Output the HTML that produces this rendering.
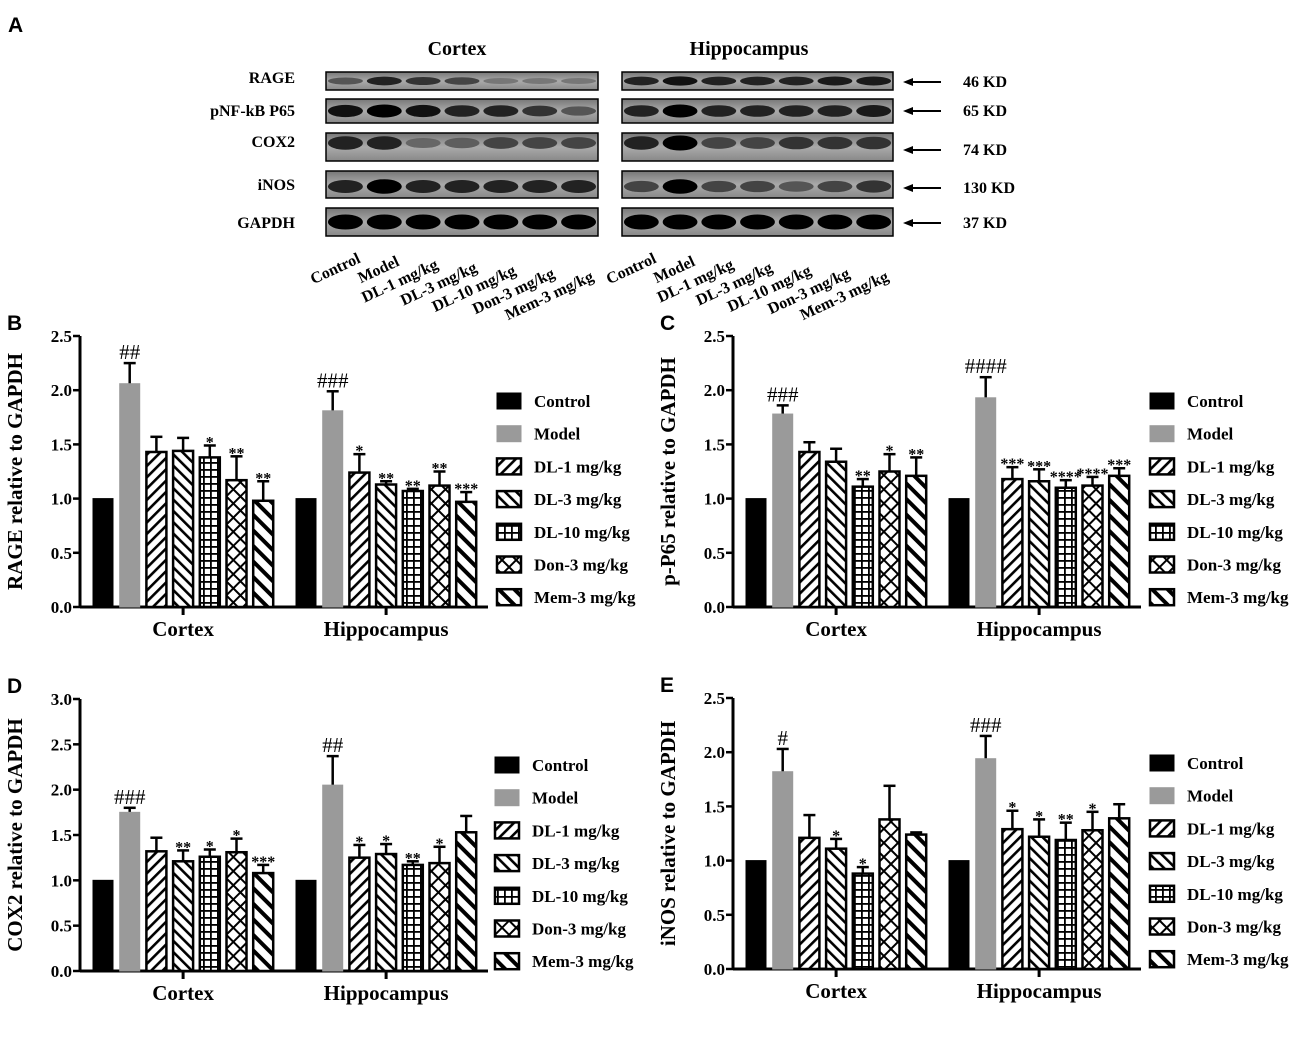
<!DOCTYPE html>
<html><head><meta charset="utf-8"><style>
body{margin:0;background:#fff}
svg{display:block;font-family:"Liberation Serif",serif;font-weight:bold}
</style></head><body>
<svg id="fig" width="1300" height="1063" viewBox="0 0 1300 1063">
<defs>
<pattern id="p-dl1" patternUnits="userSpaceOnUse" width="8" height="8" patternTransform="rotate(45)"><rect width="8" height="8" fill="#fff"/><rect x="0" y="0" width="2.6" height="8" fill="#000"/></pattern>
<pattern id="p-dl3" patternUnits="userSpaceOnUse" width="8" height="8" patternTransform="rotate(-45)"><rect width="8" height="8" fill="#fff"/><rect x="0" y="0" width="2.6" height="8" fill="#000"/></pattern>
<pattern id="p-dl10" patternUnits="userSpaceOnUse" width="7" height="7"><rect width="7" height="7" fill="#fff"/><rect x="0" y="0" width="7" height="1.8" fill="#000"/><rect x="0" y="0" width="1.8" height="7" fill="#000"/></pattern>
<pattern id="p-don" patternUnits="userSpaceOnUse" width="10" height="10" patternTransform="rotate(45)"><rect width="10" height="10" fill="#fff"/><rect x="0" y="0" width="10" height="2" fill="#000"/><rect x="0" y="0" width="2" height="10" fill="#000"/></pattern>
<pattern id="p-mem" patternUnits="userSpaceOnUse" width="11" height="11" patternTransform="rotate(-45)"><rect width="11" height="11" fill="#fff"/><rect x="0" y="0" width="4" height="11" fill="#000"/></pattern>
<linearGradient id="blotbg" x1="0" y1="0" x2="0" y2="1"><stop offset="0" stop-color="#777"/><stop offset="0.5" stop-color="#aaa"/><stop offset="1" stop-color="#888"/></linearGradient>
</defs>
<g id="blots"></g>
<g id="charts"></g>
</svg>
<script>
const NS="http://www.w3.org/2000/svg";
const svg=document.getElementById('fig');
function mk(tag,attrs,parent,txt){const e=document.createElementNS(NS,tag);for(const k in attrs)e.setAttribute(k,attrs[k]);if(txt!==undefined)e.textContent=txt;(parent||svg).appendChild(e);return e;}

// ---------- Panel A: blots ----------
const blotRows=["RAGE","pNF-kB P65","COX2","iNOS","GAPDH"];
const blotKD=["46 KD","65 KD","74 KD","130 KD","37 KD"];
const rowY=[[72,90],[99,123],[133,161],[171,198],[208,236]];
const kdY=[82,111,150,188,223];
const cortexBand=[[0.5,0.8,0.7,0.6,0.3,0.3,0.3],[0.9,1,0.9,0.8,0.8,0.7,0.5],[0.8,0.8,0.4,0.45,0.6,0.6,0.6],[0.8,1,0.8,0.8,0.8,0.8,0.8],[1,1,1,1,1,1,1]];
const hippoBand=[[0.8,0.9,0.8,0.8,0.8,0.85,0.85],[0.8,1,0.8,0.8,0.8,0.8,0.85],[0.8,1,0.6,0.6,0.7,0.7,0.7],[0.6,1,0.6,0.6,0.5,0.6,0.7],[1,1,1,1,1,1,1]];
const lanes=["Control","Model","DL-1 mg/kg","DL-3 mg/kg","DL-10 mg/kg","Don-3 mg/kg","Mem-3 mg/kg"];
const B=document.getElementById('blots');
let t=mk('text',{x:8,y:32,'font-family':'Liberation Sans, sans-serif','font-size':21},B,'A');
t=mk('text',{x:457,y:55,'text-anchor':'middle','font-size':20},B,'Cortex');
t=mk('text',{x:749,y:55,'text-anchor':'middle','font-size':20},B,'Hippocampus');
function drawBlot(x0,x1,bands,name){
  blotRows.forEach((r,i)=>{
    const [y0,y1]=rowY[i];
    const g=mk('g',{},B);
    mk('rect',{x:x0,y:y0,width:x1-x0,height:y1-y0,fill:'url(#blotbg)',stroke:'#000','stroke-width':1.5},g);
    const lw=(x1-x0)/7;
    bands[i].forEach((d,j)=>{
      const cx=x0+lw*(j+0.5), cy=(y0+y1)/2+(i==2?-4:i==3?2:0);
      const c=Math.round(170*(1-d));
      mk('ellipse',{cx:cx,cy:cy,rx:lw*0.45,ry:(y1-y0)*(0.12+0.15*d),fill:`rgb(${c},${c},${c})`},g);
    });
  });
  lanes.forEach((l,j)=>{
    const lw=(x1-x0)/7;const lx=x0+lw*(j+0.5)+16, ly=262+j*3;
    const tt=mk('text',{x:lx,y:ly,'text-anchor':'end','font-size':16,transform:`rotate(-25 ${lx} ${ly})`},B,l);
    
  });
}
drawBlot(326,598,cortexBand,'cortex');
drawBlot(622,893,hippoBand,'hippocampus');
blotRows.forEach((r,i)=>{
  const tt=mk('text',{x:295,y:(i==0?83:i==1?116:i==2?147:i==3?190:228),'text-anchor':'end','font-size':16},B,r);
  
  const ar=mk('g',{},B);
  mk('line',{x1:941,y1:kdY[i],x2:910,y2:kdY[i],stroke:'#000','stroke-width':2},ar);
  mk('path',{d:`M903 ${kdY[i]} l10 -4 v8z`,fill:'#000'},ar);
  const k=mk('text',{x:963,y:kdY[i]+5,'font-size':16},B,blotKD[i]);
  
});

// ---------- Chart data ----------
const groups=["Cortex","Hippocampus"];
const seriesNames=["Control","Model","DL-1 mg/kg","DL-3 mg/kg","DL-10 mg/kg","Don-3 mg/kg","Mem-3 mg/kg"];
const fills=["#000","#9a9a9a","url(#p-dl1)","url(#p-dl3)","url(#p-dl10)","url(#p-don)","url(#p-mem)"];

const rageCortex=[1,2.06,1.43,1.44,1.38,1.17,0.98];
const rageCortexErr=[0,0.19,0.14,0.12,0.11,0.22,0.18];
const rageHippo=[1,1.81,1.24,1.13,1.07,1.12,0.97];
const rageHippoErr=[0,0.18,0.17,0.03,0.02,0.13,0.09];
const rageCortexSig=["","##","","","*","**","**"];
const rageHippoSig=["","###","*","**","**","**","***"];
const rageTicks=["0.0","0.5","1.0","1.5","2.0","2.5"];

const p65Cortex=[1,1.78,1.43,1.34,1.11,1.25,1.21];
const p65CortexErr=[0,0.08,0.09,0.12,0.07,0.16,0.17];
const p65Hippo=[1,1.93,1.18,1.16,1.10,1.12,1.21];
const p65HippoErr=[0,0.19,0.11,0.11,0.07,0.08,0.07];
const p65CortexSig=["","###","","","**","*","**"];
const p65HippoSig=["","####","***","***","****","****","***"];
const p65Ticks=["0.0","0.5","1.0","1.5","2.0","2.5"];

const coxCortex=[1,1.75,1.32,1.21,1.26,1.31,1.08];
const coxCortexErr=[0,0.05,0.15,0.12,0.08,0.15,0.09];
const coxHippo=[1,2.05,1.25,1.29,1.17,1.19,1.53];
const coxHippoErr=[0,0.32,0.14,0.11,0.04,0.18,0.18];
const coxCortexSig=["","###","","**","*","*","***"];
const coxHippoSig=["","##","*","*","**","*",""];
const coxTicks=["0.0","0.5","1.0","1.5","2.0","2.5","3.0"];

const inosCortex=[1,1.82,1.21,1.11,0.88,1.38,1.24];
const inosCortexErr=[0,0.21,0.21,0.09,0.06,0.31,0.02];
const inosHippo=[1,1.94,1.29,1.22,1.19,1.28,1.39];
const inosHippoErr=[0,0.21,0.17,0.16,0.16,0.17,0.13];
const inosCortexSig=["","#","","*","*","",""];
const inosHippoSig=["","###","*","*","**","*",""];
const inosTicks=["0.0","0.5","1.0","1.5","2.0","2.5"];

function chart(o){
  const G=mk('g',{},document.getElementById('charts'));
  
  const ymax=parseFloat(o.ticks[o.ticks.length-1]);
  const y=v=>o.y0-(o.y0-o.ytop)*v/ymax;
  const step=26.7, bw=20;
  const xb=(g,i)=>o.ax+13+g*203+i*step;
  let e=mk('text',{x:o.ax-73,y:o.ytop-6,'font-family':'Liberation Sans, sans-serif','font-size':21},G,o.letter);
  
  e=mk('line',{x1:o.ax,y1:o.ytop,x2:o.ax,y2:o.y0,stroke:'#000','stroke-width':3},G);
  
  e=mk('line',{x1:o.ax,y1:o.y0,x2:o.ax+408,y2:o.y0,stroke:'#000','stroke-width':3},G);
  
  o.ticks.forEach(tk=>{
    const v=parseFloat(tk);
    mk('line',{x1:o.ax-7,y1:y(v),x2:o.ax,y2:y(v),stroke:'#000','stroke-width':2.5},G);
    e=mk('text',{x:o.ax-8,y:y(v)+6,'text-anchor':'end','font-size':17},G,tk);
    
  });
  const yl=(o.y0+o.ytop)/2;
  e=mk('text',{x:o.ax-58,y:yl,'text-anchor':'middle','font-size':21,transform:`rotate(-90 ${o.ax-58} ${yl})`},G,o.ylabel);
  
  const data=[[o.c,o.ce,o.cs],[o.h,o.he,o.hs]];
  groups.forEach((gn,g)=>{
    const cx=xb(g,3)+bw/2;
    mk('line',{x1:cx,y1:o.y0,x2:cx,y2:o.y0+8,stroke:'#000','stroke-width':3},G);
    e=mk('text',{x:cx,y:o.y0+29,'text-anchor':'middle','font-size':21},G,gn);
    
    const [vals,errs,sig]=data[g];
    vals.forEach((v,i)=>{
      const x=xb(g,i);
      const top=y(v+errs[i]);
      if(errs[i]>0){
        mk('line',{x1:x+bw/2,y1:y(v),x2:x+bw/2,y2:top,stroke:'#000','stroke-width':2.5},G);
        mk('line',{x1:x+bw/2-6,y1:top,x2:x+bw/2+6,y2:top,stroke:'#000','stroke-width':2.5},G);
      }
      const r=mk('rect',{x:x,y:y(v),width:bw,height:o.y0-y(v),fill:fills[i],stroke:i==1?'#9a9a9a':'#000','stroke-width':i>1?2.5:1},G);
      
      
      if(sig[i]){
        const hash=sig[i][0]=='#';
        const s=mk('text',{x:x+bw/2,y:top-(hash?4:-2),'text-anchor':'middle','font-size':hash?21:16,'font-weight':hash?'normal':'bold'},G,sig[i]);
        
      }
    });
  });
  seriesNames.forEach((n,i)=>{
    const ly=o.ly+i*32.7;
    const lg=mk('g',{},G);
    mk('rect',{x:o.lx,y:ly-8,width:24,height:16,fill:fills[i],stroke:i==1?'#9a9a9a':'#000','stroke-width':i>1?2.5:1},lg);
    mk('text',{x:o.lx+37,y:ly+6,'font-size':17},lg,n);
  });
}
chart({name:'rage-chart',letter:'B',ax:80,y0:607,ytop:336,ticks:rageTicks,ylabel:'RAGE relative to GAPDH',c:rageCortex,ce:rageCortexErr,cs:rageCortexSig,h:rageHippo,he:rageHippoErr,hs:rageHippoSig,lx:497,ly:401});
chart({name:'p65-chart',letter:'C',ax:733,y0:607,ytop:336,ticks:p65Ticks,ylabel:'p-P65 relative to GAPDH',c:p65Cortex,ce:p65CortexErr,cs:p65CortexSig,h:p65Hippo,he:p65HippoErr,hs:p65HippoSig,lx:1150,ly:401});
chart({name:'cox2-chart',letter:'D',ax:80,y0:971,ytop:699,ticks:coxTicks,ylabel:'COX2 relative to GAPDH',c:coxCortex,ce:coxCortexErr,cs:coxCortexSig,h:coxHippo,he:coxHippoErr,hs:coxHippoSig,lx:495,ly:765});
chart({name:'inos-chart',letter:'E',ax:733,y0:969,ytop:698,ticks:inosTicks,ylabel:'iNOS relative to GAPDH',c:inosCortex,ce:inosCortexErr,cs:inosCortexSig,h:inosHippo,he:inosHippoErr,hs:inosHippoSig,lx:1150,ly:763});
</script>
</body></html>
